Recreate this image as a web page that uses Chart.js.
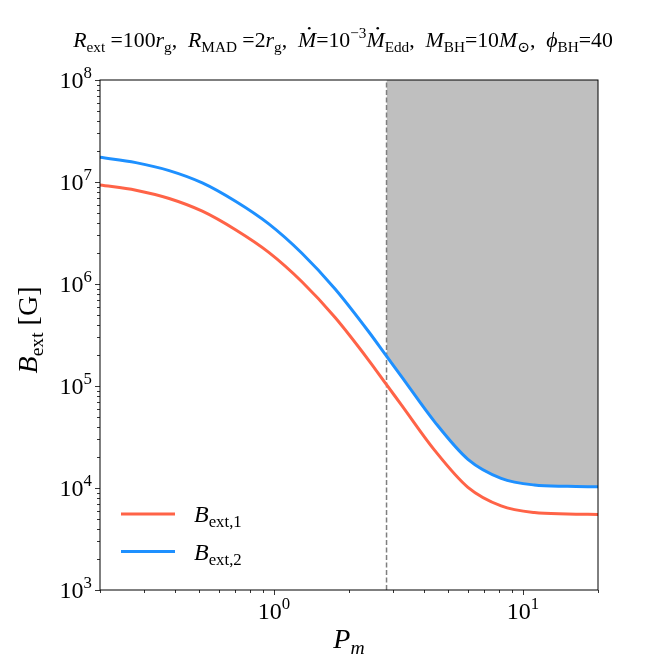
<!DOCTYPE html>
<html>
<head>
<meta charset="utf-8">
<script src="https://cdn.jsdelivr.net/npm/chart.js@4.4.1/dist/chart.umd.min.js"></script>
<style>
  html, body { margin: 0; padding: 0; background: #fff; }
  #wrap { width: 664px; height: 664px; }
</style>
</head>
<body>
<div id="wrap"><canvas id="bext"></canvas></div>
<script>
// values
var pmVals = [0.2, 0.2787, 0.3791, 0.5152, 0.7002, 0.9524, 1.294, 1.759, 2.392, 2.83,
              3.251, 4.417, 6.007, 8.166, 11.1, 15.09, 20];
var bExt1  = [9.35e6, 8.31e6, 6.89e6, 5.17e6, 3.4e6, 2.04e6, 1.051e6, 4.69e5, 1.807e5, 1.03e5,
              6.5e4, 2.34e4, 1.016e4, 6.68e3, 5.74e3, 5.57e3, 5.51e3];
var bExt2  = [1.747e7, 1.549e7, 1.294e7, 9.8e6, 6.47e6, 3.88e6, 2.0e6, 8.93e5, 3.44e5, 1.96e5,
              1.236e5, 4.45e4, 1.91e4, 1.245e4, 1.07e4, 1.039e4, 1.028e4];
var pmCut = 2.83;           // dashed line / start of grey band
var xTickExp = [-1, 0, 1];  // decades on the x axis
var yTickExp = [3, 4, 5, 6, 7, 8];
var xRange = [0.2, 20];
var yRange = [1e3, 1e8];

var FONT = '"Liberation Serif", "DejaVu Serif", serif';

function pts(xs, ys) {
    return xs.map(function (x, i) { return { x: x, y: ys[i] }; });
}

// small "mathtext" writer: parts are [text, kind]
// kinds: r roman, i italic, sub, isub (italic sub), sup, idot (italic with dot above)
function runs(ctx, parts, size) {
    return parts.map(function (p) {
        var k = p[1], s = size, it = false, dy = 0;
        if (k == 'i' || k == 'idot' || k == 'isub') it = true;
        if (k == 'sub' || k == 'isub') { s = size * 0.7; dy = size * 0.22; }
        if (k == 'sup') { s = size * 0.7; dy = -size * 0.42; }
        var font = (it ? 'italic ' : '') + s + 'px ' + FONT;
        ctx.font = font;
        return { t: p[0], font: font, dy: dy, w: ctx.measureText(p[0]).width, dot: k == 'idot', s: s };
    });
}
function rich(ctx, parts, x, y, size, align) {
    var r = runs(ctx, parts, size);
    var total = r.reduce(function (a, b) { return a + b.w; }, 0);
    var cx = align == 'center' ? x - total / 2 : (align == 'right' ? x - total : x);
    ctx.textAlign = 'left';
    ctx.textBaseline = 'alphabetic';
    r.forEach(function (q) {
        ctx.font = q.font;
        ctx.fillText(q.t, cx, y + q.dy);
        if (q.dot) {
            ctx.beginPath();
            ctx.arc(cx + q.w * 0.62, y - q.s * 0.86, q.s * 0.06, 0, Math.PI * 2);
            ctx.fill();
        }
        cx += q.w;
    });
    return total;
}
function labelParts(label) {
    var a = label.split('_');
    return a.length > 1 ? [[a[0], 'i'], [a[1], 'sub']] : [[a[0], 'i']];
}

var decor = {
    id: 'decor',
    afterDraw: function (chart) {
        var ctx = chart.ctx, ca = chart.chartArea;
        var xs = chart.scales.x, ys = chart.scales.y;
        ctx.save();
        ctx.fillStyle = '#000';
        ctx.strokeStyle = '#000';

        // frame
        ctx.lineWidth = 1;
        ctx.strokeRect(ca.left, ca.top, ca.right - ca.left, ca.bottom - ca.top);

        // tick marks
        ctx.lineWidth = 0.8;
        ctx.beginPath();
        for (var e = -2; e <= 9; e++) {
            for (var k = 1; k <= 9; k++) {
                var v = k * Math.pow(10, e);
                var len = k == 1 ? 5 : 3;
                if (v >= xRange[0] * 0.999 && v <= xRange[1] * 1.001) {
                    var px = Math.round(xs.getPixelForValue(v)) + 0.5;
                    ctx.moveTo(px, ca.bottom); ctx.lineTo(px, ca.bottom + len);
                }
                if (v >= yRange[0] * 0.999 && v <= yRange[1] * 1.001) {
                    var py = Math.round(ys.getPixelForValue(v)) + 0.5;
                    ctx.moveTo(ca.left, py); ctx.lineTo(ca.left - len, py);
                }
            }
        }
        ctx.stroke();

        // tick labels
        xTickExp.forEach(function (e) {
            var v = Math.pow(10, e);
            if (v < xRange[0] || v > xRange[1]) return;
            rich(ctx, [['10', 'r'], [String(e).replace('-', '\u2212'), 'sup']],
                 xs.getPixelForValue(v), ca.bottom + 29, 24, 'center');
        });
        yTickExp.forEach(function (e) {
            rich(ctx, [['10', 'r'], [String(e), 'sup']],
                 ca.left - 8, ys.getPixelForValue(Math.pow(10, e)) + 8, 24, 'right');
        });

        // axis titles
        rich(ctx, [['P', 'i'], ['m', 'isub']], (ca.left + ca.right) / 2, ca.bottom + 58, 28, 'center');
        ctx.save();
        ctx.translate(37, (ca.top + ca.bottom) / 2 - 5);
        ctx.rotate(-Math.PI / 2);
        rich(ctx, [['B', 'i'], ['ext', 'sub'], [' [G]', 'r']], 0, 0, 28, 'center');
        ctx.restore();

        // title
        rich(ctx, [
            ['R', 'i'], ['ext', 'sub'], [' =100', 'r'], ['r', 'i'], ['g', 'sub'], [',  ', 'r'],
            ['R', 'i'], ['MAD', 'sub'], [' =2', 'r'], ['r', 'i'], ['g', 'sub'], [',  ', 'r'],
            ['M', 'idot'], ['=10', 'r'], ['\u22123', 'sup'], ['M', 'idot'], ['Edd', 'sub'], [',  ', 'r'],
            ['M', 'i'], ['BH', 'sub'], ['=10', 'r'], ['M', 'i'], ['\u2299', 'sub'], [',  ', 'r'],
            ['\u03d5', 'i'], ['BH', 'sub'], ['=40', 'r']
        ], 343, 47, 21.8, 'center');

        // legend (bottom left, inside axes)
        var ds = chart.data.datasets;
        [0, 1].forEach(function (i, n) {
            var yy = ca.bottom - 76 + n * 37.5;
            ctx.strokeStyle = ds[i].borderColor;
            ctx.lineWidth = 3;
            ctx.beginPath();
            ctx.moveTo(ca.left + 21, yy); ctx.lineTo(ca.left + 75, yy);
            ctx.stroke();
            ctx.fillStyle = '#000';
            rich(ctx, labelParts(ds[i].label), ca.left + 94, yy + 8, 24, 'left');
        });
        ctx.restore();
    }
};

var ctx = document.getElementById('bext').getContext('2d');
var chart = new Chart(ctx, {
    type: 'line',
    data: {
        datasets: [{
            label: 'B_ext,1',
            data: pts(pmVals, bExt1),
            borderColor: '#ff6347',
            borderWidth: 3,
            pointRadius: 0,
            cubicInterpolationMode: 'monotone',
            fill: false,
            order: 0
        }, {
            label: 'B_ext,2',
            data: pts(pmVals, bExt2),
            borderColor: '#1e90ff',
            borderWidth: 3,
            pointRadius: 0,
            cubicInterpolationMode: 'monotone',
            fill: false,
            order: 0
        }, {
            label: 'cut',
            data: [{ x: pmCut, y: yRange[0] }, { x: pmCut, y: yRange[1] }],
            borderColor: '#7f7f7f',
            borderWidth: 1.5,
            borderDash: [5, 2.5],
            pointRadius: 0,
            fill: false,
            order: 1
        }, {
            label: 'band',
            data: pts(pmVals, bExt2).filter(function (p) { return p.x >= pmCut; }),
            borderWidth: 0,
            borderColor: 'rgba(0,0,0,0)',
            backgroundColor: '#bfbfbf',
            pointRadius: 0,
            cubicInterpolationMode: 'monotone',
            fill: 'end',
            order: 2
        }]
    },
    options: {
        responsive: true,
        maintainAspectRatio: false,
        animation: false,
        layout: { padding: { left: 0, top: 80, right: 66, bottom: 0 } },
        plugins: {
            legend: { display: false },
            tooltip: { enabled: false },
            title: { display: false }
        },
        scales: {
            x: {
                type: 'logarithmic',
                min: xRange[0],
                max: xRange[1],
                ticks: { display: false },
                grid: { display: false },
                border: { display: false },
                afterFit: function (s) { s.height = 74; }
            },
            y: {
                type: 'logarithmic',
                min: yRange[0],
                max: yRange[1],
                ticks: { display: false },
                grid: { display: false },
                border: { display: false },
                afterFit: function (s) { s.width = 100; }
            }
        }
    },
    plugins: [decor]
});
</script>
</body>
</html>
